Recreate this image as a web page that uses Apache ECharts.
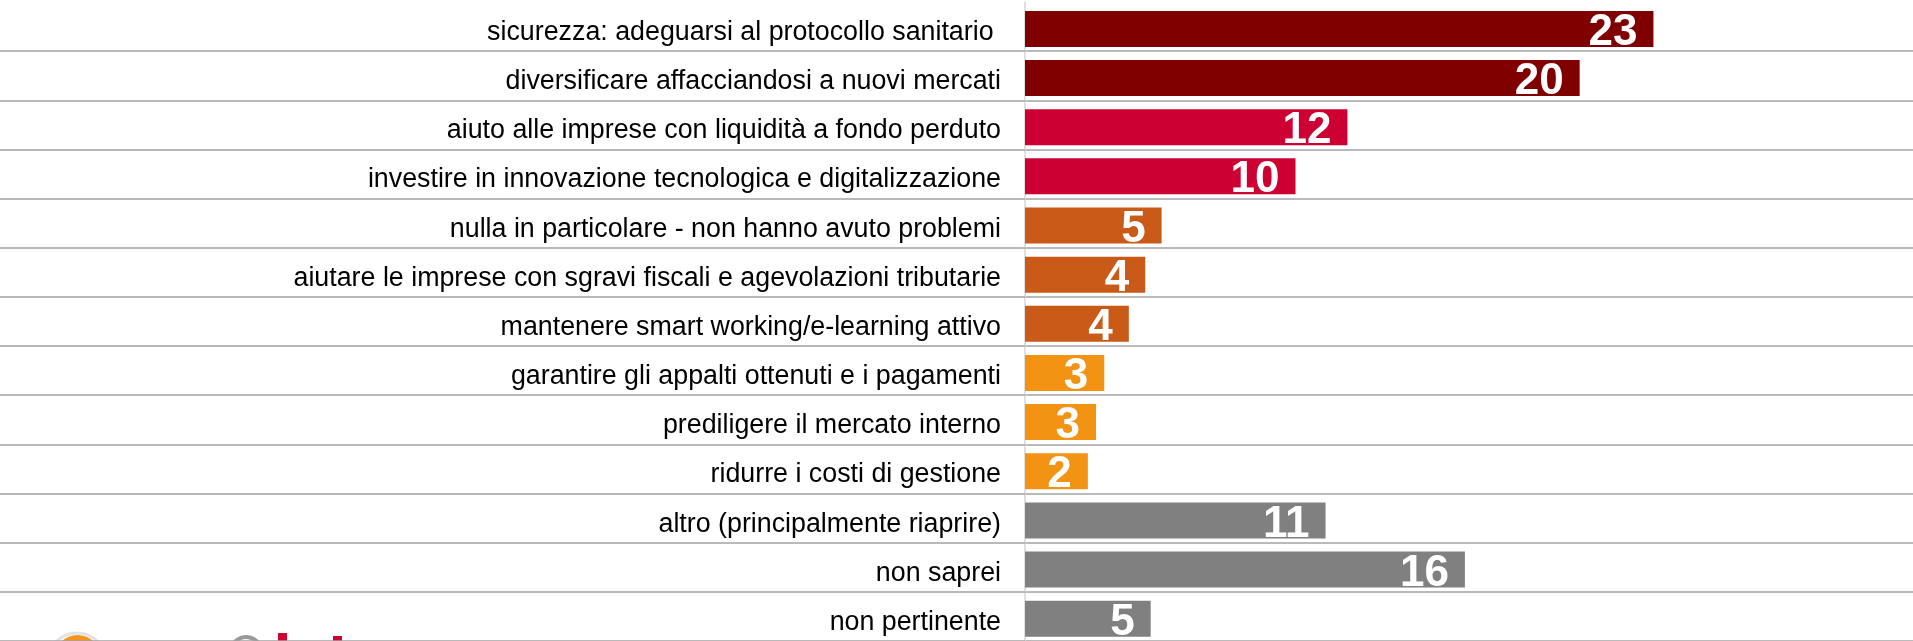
<!DOCTYPE html>
<html><head><meta charset="utf-8">
<script src="https://cdn.jsdelivr.net/npm/echarts@6/dist/echarts.min.js"></script>
<style>html,body{margin:0;padding:0;background:#fff}#c{width:1913px;height:641px}</style>
</head><body><div id="c"></div>
<script>
const categories = [
  'sicurezza: adeguarsi al protocollo sanitario ',
  'diversificare affacciandosi a nuovi mercati',
  'aiuto alle imprese con liquidità a fondo perduto',
  'investire in innovazione tecnologica e digitalizzazione',
  'nulla in particolare - non hanno avuto problemi',
  'aiutare le imprese con sgravi fiscali e agevolazioni tributarie',
  'mantenere smart working/e-learning attivo',
  'garantire gli appalti ottenuti e i pagamenti',
  'prediligere il mercato interno',
  'ridurre i costi di gestione',
  'altro (principalmente riaprire)',
  'non saprei',
  'non pertinente'
];
const values = [23.0, 20.3, 11.8, 9.9, 5.0, 4.4, 3.8, 2.9, 2.6, 2.3, 11.0, 16.1, 4.6];
const shownLabels = [23, 20, 12, 10, 5, 4, 4, 3, 3, 2, 11, 16, 5];
const groups = [0, 0, 1, 1, 2, 2, 2, 3, 3, 3, 4, 4, 4];
const palette = ['#800000', '#CC0033', '#C95A18', '#F39314', '#808080'];

const FONT = "'Liberation Sans', Arial, Helvetica, sans-serif";
const chart = echarts.init(document.getElementById('c'), null, {renderer: 'canvas'});
chart.setOption({
  animation: false,
  grid: {left: 1025, right: 0, top: 2, height: 643.5, containLabel: false},
  xAxis: {type: 'value', min: 0, max: 32.5, show: false},
  yAxis: {
    type: 'category', data: categories, inverse: true,
    axisLine: {show: true, lineStyle: {color: '#d6d6d6', width: 1.5}},
    axisTick: {show: true, length: 1025, interval: function (i) { return i !== 0; },
      lineStyle: {color: '#a3a3a3', width: 1.5}},
    axisLabel: {margin: 24, color: '#000', fontSize: 26.8, fontFamily: FONT,
      verticalAlign: 'top', lineHeight: 12},
    splitLine: {show: true, showMinLine: false, interval: 0,
      lineStyle: {color: '#a3a3a3', width: 1.5}}
  },
  series: [
    {type: 'bar', data: [], barWidth: 4.6, barGap: '0%', silent: true},
    {
      type: 'bar', barWidth: 36, barGap: '0%',
      data: values.map(function (v, i) { return {value: v, itemStyle: {color: palette[groups[i]]}}; }),
      label: {
        show: true, position: 'insideRight', distance: 16, offset: [0, 4], color: '#fff',
        fontSize: 44, fontWeight: 'bold', fontFamily: FONT,
        formatter: function (p) { return String(shownLabels[p.dataIndex]); }
      }
    }
  ],
  graphic: [
    {type: 'circle', shape: {cx: 77, cy: 662, r: 29}, style: {fill: '#fff', stroke: '#e3e3e3', lineWidth: 3}},
    {type: 'circle', shape: {cx: 77.5, cy: 658, r: 23}, style: {fill: '#F7941D'}},
    {type: 'arc', shape: {cx: 246, cy: 652, r: 15, startAngle: Math.PI * 1.05, endAngle: Math.PI * 1.9}, style: {stroke: '#9a9a9a', lineWidth: 4, fill: null}},
    {type: 'rect', shape: {x: 278, y: 633, width: 9, height: 10}, style: {fill: '#CC0033'}},
    {type: 'rect', shape: {x: 333, y: 636, width: 9, height: 7}, style: {fill: '#CC0033'}}
  ]
});
</script>
</body></html>
